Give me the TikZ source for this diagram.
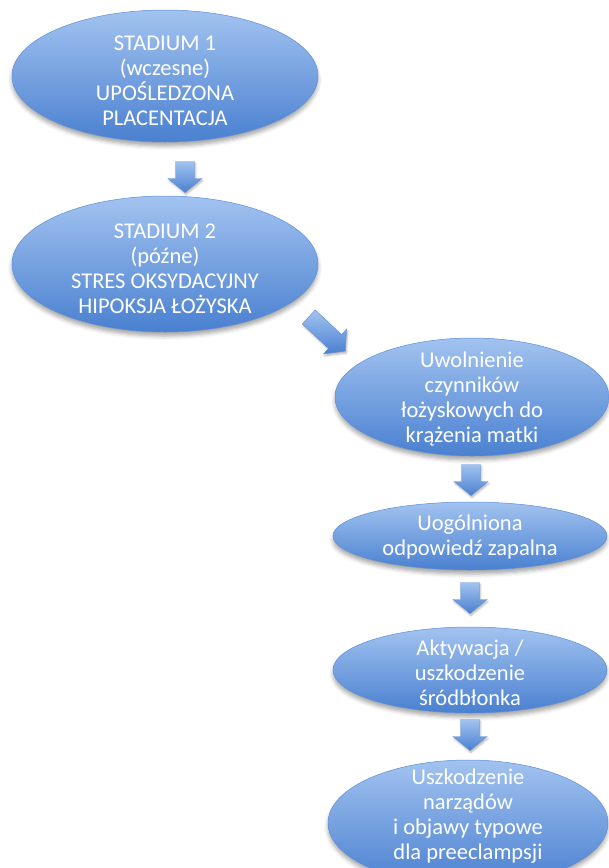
\documentclass[tikz,border=0pt]{standalone}
\usepackage{fontspec}
\setmainfont{Carlito}
\usetikzlibrary{shapes.geometric,shadows.blur}
\definecolor{btop}{HTML}{A2C3F0}
\definecolor{bbot}{HTML}{4A80D0}
\definecolor{bline}{HTML}{5E8FD6}
\tikzset{
  stage/.style={ellipse, inner sep=0pt, top color=btop, bottom color=bbot, draw=bline, line width=0.5pt,
    blur shadow={shadow xshift=0pt, shadow yshift=-4pt, shadow blur radius=4pt, shadow opacity=35}},
  stagetext/.style={text=white, align=center, inner sep=0pt, font=\fontsize{22.5}{25}\selectfont},
  blockarrow/.style={top color=btop, bottom color=bbot, draw=bline, line width=0.4pt,
    blur shadow={shadow xshift=1pt, shadow yshift=-2pt, shadow blur radius=2pt, shadow opacity=30}},
}
% name, x, y, angle, length
\newcommand\blkarrow[5]{%
  \begin{scope}[shift={(#2,#3)}, rotate=#4]
    \coordinate (#1) at (0pt,0pt);
    \path[blockarrow] ({-#5/2*1pt},-9.5pt) -- ({#5/2*1pt-14pt},-9.5pt) -- ({#5/2*1pt-14pt},-17pt)
      -- ({#5/2*1pt},0pt) -- ({#5/2*1pt-14pt},17pt) -- ({#5/2*1pt-14pt},9.5pt) -- ({-#5/2*1pt},9.5pt) -- cycle;
  \end{scope}}
\begin{document}
\begin{tikzpicture}[x=1pt,y=-1pt]
\useasboundingbox (0,0) rectangle (609,868);
\clip (0,0) rectangle (609,868);
\node[stage, minimum width=306pt, minimum height=132pt] (e1) at (165,76) {};
\node[stagetext] (t1) at ([yshift=-5pt]e1.center) {STADIUM 1\\(wczesne)\\UPOŚLEDZONA\\PLACENTACJA};
\node[stage, minimum width=306pt, minimum height=136pt] (e2) at (165,264) {};
\node[stagetext] (t2) at ([yshift=-5pt]e2.center) {STADIUM 2\\(późne)\\STRES OKSYDACYJNY\\HIPOKSJA ŁOŻYSKA};
\node[stage, minimum width=274pt, minimum height=118pt] (e3) at (472,397) {};
\node[stagetext] (t3) at ([yshift=-2pt]e3.center) {Uwolnienie\\czynników\\łożyskowych do\\krążenia matki};
\node[stage, minimum width=274pt, minimum height=68pt] (e4) at (470,536) {};
\node[stagetext] (t4) at ([yshift=-1pt]e4.center) {Uogólniona\\odpowiedź zapalna};
\node[stage, minimum width=274pt, minimum height=86pt] (e5) at (470,670) {};
\node[stagetext] (t5) at ([yshift=-3pt]e5.center) {Aktywacja /\\uszkodzenie\\śródbłonka};
\node[stage, minimum width=280pt, minimum height=126pt] (e6) at (468,823) {};
\node[stagetext] (t6) at ([yshift=7pt]e6.center) {Uszkodzenie\\narządów\\i objawy typowe\\dla preeclampsji};
\blkarrow{a1}{185}{177}{-90}{31}
\blkarrow{a2}{327}{334}{-43}{50}
\blkarrow{a3}{471}{480}{-90}{31}
\blkarrow{a4}{470}{598}{-90}{31}
\blkarrow{a5}{470}{735}{-90}{31}
\end{tikzpicture}
\end{document}
